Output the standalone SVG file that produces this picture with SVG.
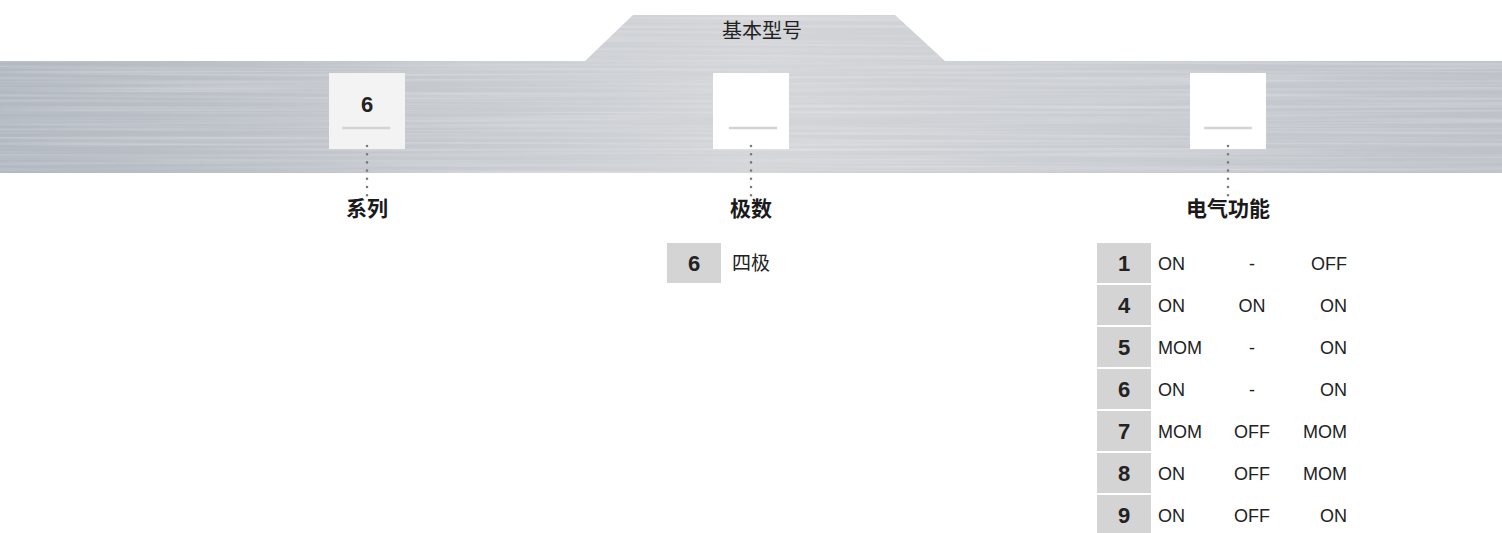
<svg xmlns="http://www.w3.org/2000/svg" width="1502" height="533" viewBox="0 0 1502 533">
  <defs>
    <linearGradient id="metal" x1="0" y1="0" x2="1" y2="0">
      <stop offset="0" stop-color="#b2b8c1"/>
      <stop offset="0.25" stop-color="#c3c7cd"/>
      <stop offset="0.5" stop-color="#d3d5d8"/>
      <stop offset="0.75" stop-color="#c9ccd1"/>
      <stop offset="1" stop-color="#bdc1c8"/>
    </linearGradient>
    <filter id="brush" x="0" y="0" width="100%" height="100%">
      <feTurbulence type="fractalNoise" baseFrequency="0.003 0.35" numOctaves="2" seed="4" result="n"/>
      <feColorMatrix in="n" type="matrix" values="0 0 0 0 1  0 0 0 0 1  0 0 0 0 1  0 0 0 0.9 -0.35" result="w"/>
      <feComposite in="w" in2="SourceGraphic" operator="in"/>
    </filter>
    <style>
      .cn { font-family: "Noto Sans CJK SC", "Liberation Sans", sans-serif; fill: #222; }
      .lbl { font-family: "Noto Sans CJK SC", "Liberation Sans", sans-serif; font-weight: bold; font-size: 21px; fill: #1a1a1a; text-anchor: middle; }
      .num { font-family: "Liberation Sans", Arial, sans-serif; font-weight: bold; font-size: 22px; fill: #222; text-anchor: middle; }
      .txt { font-family: "Liberation Sans", Arial, sans-serif; font-size: 18px; fill: #222; }
      .nbox { fill: #d4d4d4; }
      .slot { stroke: #d3d3d3; stroke-width: 2.5; }
      .dots { stroke: #7a7a7a; stroke-width: 2.6; stroke-linecap: round; stroke-dasharray: 0 8.2; fill: none; }
    </style>
  </defs>

  <g id="band">
    <path d="M0,61 H585 L633,15 H895 L945,61 H1502 V173 H0 Z" fill="url(#metal)"/>
    <path d="M0,61 H585 L633,15 H895 L945,61 H1502 V173 H0 Z" fill="#000" filter="url(#brush)" opacity="0.6"/>
    <text class="cn" x="762" y="38" font-size="20" text-anchor="middle">基本型号</text>
  </g>

  <g id="node-series">
    <rect x="329" y="73" width="76" height="76" fill="#f3f3f3"/>
    <text class="num" x="367" y="112">6</text>
    <line class="slot" x1="342" y1="128" x2="390" y2="128"/>
    <text class="lbl" x="367" y="216">系列</text>
  </g>

  <g id="node-poles">
    <rect x="713" y="73" width="76" height="76" fill="#ffffff"/>
    <line class="slot" x1="729" y1="128" x2="777" y2="128"/>
    <text class="lbl" x="751" y="216">极数</text>
    <rect class="nbox" x="667" y="243" width="54" height="40"/>
    <text class="num" x="694" y="271">6</text>
    <text class="cn" x="732" y="270" font-size="19">四极</text>
  </g>

  <g id="node-function">
    <rect x="1190" y="73" width="76" height="76" fill="#ffffff"/>
    <line class="slot" x1="1204" y1="128" x2="1252" y2="128"/>
    <text class="lbl" x="1228" y="216">电气功能</text>
    <g id="func-table">
      <rect class="nbox" x="1097" y="243" width="54" height="40"/>
      <rect class="nbox" x="1097" y="285" width="54" height="40"/>
      <rect class="nbox" x="1097" y="327" width="54" height="40"/>
      <rect class="nbox" x="1097" y="369" width="54" height="40"/>
      <rect class="nbox" x="1097" y="411" width="54" height="40"/>
      <rect class="nbox" x="1097" y="453" width="54" height="40"/>
      <rect class="nbox" x="1097" y="495" width="54" height="40"/>

      <text class="num" x="1124" y="271">1</text>
      <text class="num" x="1124" y="313">4</text>
      <text class="num" x="1124" y="355">5</text>
      <text class="num" x="1124" y="397">6</text>
      <text class="num" x="1124" y="439">7</text>
      <text class="num" x="1124" y="481">8</text>
      <text class="num" x="1124" y="523">9</text>

      <g class="txt">
        <text x="1158" y="270">ON</text>
        <text x="1158" y="312">ON</text>
        <text x="1158" y="354">MOM</text>
        <text x="1158" y="396">ON</text>
        <text x="1158" y="438">MOM</text>
        <text x="1158" y="480">ON</text>
        <text x="1158" y="522">ON</text>
      </g>
      <g class="txt" text-anchor="middle">
        <text x="1252" y="270">-</text>
        <text x="1252" y="312">ON</text>
        <text x="1252" y="354">-</text>
        <text x="1252" y="396">-</text>
        <text x="1252" y="438">OFF</text>
        <text x="1252" y="480">OFF</text>
        <text x="1252" y="522">OFF</text>
      </g>
      <g class="txt" text-anchor="end">
        <text x="1347" y="270">OFF</text>
        <text x="1347" y="312">ON</text>
        <text x="1347" y="354">ON</text>
        <text x="1347" y="396">ON</text>
        <text x="1347" y="438">MOM</text>
        <text x="1347" y="480">MOM</text>
        <text x="1347" y="522">ON</text>
      </g>
    </g>
  </g>

  <g id="connectors">
    <line class="dots" x1="367" y1="146" x2="367" y2="196"/>
    <line class="dots" x1="751" y1="146" x2="751" y2="196"/>
    <line class="dots" x1="1228" y1="146" x2="1228" y2="196"/>
  </g>
</svg>
